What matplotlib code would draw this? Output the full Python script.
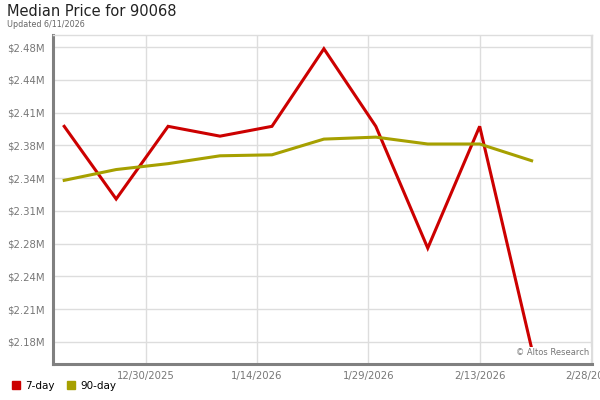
import numpy as np
import matplotlib
matplotlib.use("Agg")
import matplotlib.pyplot as plt
import matplotlib.dates as mdates
from matplotlib.lines import Line2D
import datetime as dt

# weekly points
dates = [dt.date(2025, 12, 19), dt.date(2025, 12, 26), dt.date(2026, 1, 2),
         dt.date(2026, 1, 9), dt.date(2026, 1, 16), dt.date(2026, 1, 23),
         dt.date(2026, 1, 30), dt.date(2026, 2, 6), dt.date(2026, 2, 13),
         dt.date(2026, 2, 20)]
price_7day = [2397000, 2323000, 2397000, 2387000, 2397000,
              2476000, 2397000, 2273000, 2397000, 2171000]
price_90day = [2342000, 2353000, 2359000, 2367000, 2368000,
               2384000, 2386000, 2379000, 2379000, 2362000]

y_ticks = [2177500, 2210800, 2244200, 2277500, 2310800,
           2344200, 2377500, 2410800, 2444200, 2477500]
y_labels = ["$2.18M", "$2.21M", "$2.24M", "$2.28M", "$2.31M",
            "$2.34M", "$2.38M", "$2.41M", "$2.44M", "$2.48M"]
x_ticks = [dt.date(2025, 12, 30), dt.date(2026, 1, 14), dt.date(2026, 1, 29),
           dt.date(2026, 2, 13), dt.date(2026, 2, 28)]
x_labels = ["12/30/2025", "1/14/2026", "1/29/2026", "2/13/2026", "2/28/2026"]

red = "#cc0000"
olive = "#a6a000"

fig = plt.figure(figsize=(6, 4), dpi=100)
ax = fig.add_axes([0.089, 0.09, 0.898, 0.8225])

ax.plot(dates, price_7day, color=red, lw=2.2, solid_joinstyle="miter", zorder=3)
ax.plot(dates, price_90day, color=olive, lw=2.2, zorder=3)

ax.set_xlim(mdates.date2num(dt.datetime(2025, 12, 17, 13)),
            mdates.date2num(dt.datetime(2026, 2, 28, 4)))
ax.set_ylim(2155000, 2490000)

ax.set_yticks(y_ticks)
ax.set_yticklabels(y_labels)
ax.set_xticks(mdates.date2num(x_ticks))
ax.set_xticklabels(x_labels)
ax.tick_params(length=0, labelsize=7.3, labelcolor="#777777")
ax.tick_params(axis="y", pad=6.5)
ax.tick_params(axis="x", pad=5)

ax.grid(True, color="#dddddd", lw=1)
ax.set_axisbelow(True)
for s in ["left", "bottom"]:
    ax.spines[s].set_color("#808080")
    ax.spines[s].set_linewidth(2.2)
for s in ["top", "right"]:
    ax.spines[s].set_color("#dddddd")
    ax.spines[s].set_linewidth(1)

ax.text(0.995, 0.02, "\u00a9 Altos Research", transform=ax.transAxes,
        ha="right", va="bottom", fontsize=6, color="#777777",
        bbox=dict(facecolor="white", edgecolor="none", pad=1), zorder=4)

fig.text(0.012, 0.97, "Median Price for 90068", fontsize=10.5, color="#222222",
         ha="left", va="center")
fig.text(0.012, 0.938, "Updated 6/11/2026", fontsize=5.8, color="#666666",
         ha="left", va="center")

handles = [Line2D([], [], marker="s", ls="none", color=red, markersize=5.5),
           Line2D([], [], marker="s", ls="none", color=olive, markersize=5.5)]
fig.legend(handles, ["7-day", "90-day"], loc="center left",
           bbox_to_anchor=(0.0, 0.035), ncol=2, frameon=False, fontsize=7.5,
           handletextpad=0.3, columnspacing=1.0, handlelength=1.2)

fig.savefig("out.png", dpi=100)
